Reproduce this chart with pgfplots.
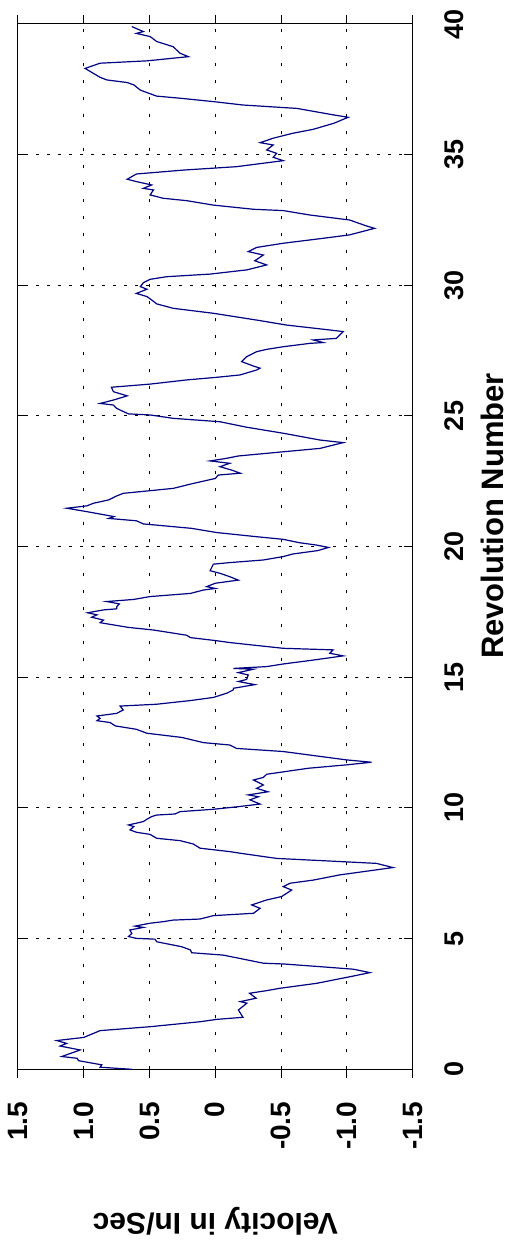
\documentclass[border=0pt]{standalone}
\usepackage{fontspec}
\setmainfont{Liberation Sans}
\usepackage{pgfplots}
\pgfplotsset{compat=1.18}
\definecolor{mlnavy}{RGB}{0,0,128}
\newcommand{\rl}[1]{{\fontsize{13.5}{13.5}\selectfont\bfseries #1}}

\begin{document}
\begin{tikzpicture}
\useasboundingbox (-9pt,-88.85pt) rectangle (244.5pt,534.65pt);
\begin{axis}[
  at={(0,0)}, anchor=south west,
  scale only axis, width=197.35pt, height=522.65pt,
  x dir=reverse, xmin=-1.5, xmax=1.5, ymin=0, ymax=40,
  xtick={-1.5,-1,-0.5,0,0.5,1,1.5},
  xticklabels={-1.5,-1.0,-0.5,0,0.5,1.0,1.5},
  ytick={0,5,...,40},
  yticklabels={\rl{0},\rl{5},\rl{10},\rl{15},\rl{20},\rl{25},\rl{30},\rl{35},\rl{40}},
  axis line style={black,line width=0.5pt},
  tick style={black,line width=0.5pt},
  major tick length=4.5pt,
  xtick align=outside, ytick align=inside,
  grid=major,
  major x grid style={black,line width=0.5pt,dash pattern=on 1.5pt off 7pt},
  major y grid style={black,line width=0.5pt,dash pattern=on 1.2pt off 4.3pt},
  xticklabel style={rotate=90,anchor=east,inner sep=0pt,font=\bfseries\fontsize{14}{14}\selectfont},
  xticklabel shift=11.5pt,
  yticklabel pos=right,
  y tick label style={rotate=90,anchor=north,inner sep=0pt},
  yticklabel shift=16pt,
  every axis x label/.style={at={(axis description cs:0.5,-0.1376)},anchor=base,rotate=180,inner sep=0pt,font=\bfseries\fontsize{15}{15}\selectfont},
  every axis y label/.style={at={(axis description cs:1.2288,0.5293)},anchor=base,rotate=90,inner sep=0pt,font=\bfseries\fontsize{15.5}{15.5}\selectfont},
  xlabel={Velocity in In/Sec},
  ylabel={Revolution Number},
]
% velocity (x) against revolution (y)
\addplot[mlnavy,line width=0.6pt] table[x=v,y=r] {
r v
0.00 0.635
0.08 0.876
0.17 0.863
0.33 1.04
0.42 1.05
0.49 1.167
0.74 1.028
0.89 1.18
0.99 1.13
1.10 1.205
1.22 1.00
1.48 0.876
1.63 0.496
1.82 0.116
1.91 -0.01
1.99 -0.21
2.27 -0.175
2.53 -0.24
2.59 -0.19
2.72 -0.31
2.91 -0.26
3.01 -0.39
3.10 -0.49
3.29 -0.77
3.42 -0.90
3.57 -1.05
3.70 -1.175
3.83 -1.05
3.93 -0.79
4.03 -0.52
4.06 -0.365
4.37 -0.06
4.46 0.18
4.57 0.19
4.69 0.256
4.88 0.445
4.98 0.46
5.01 0.60
5.08 0.66
5.20 0.635
5.33 0.65
5.43 0.547
5.48 0.61
5.59 0.496
5.65 0.395
5.71 0.32
5.75 0.116
5.88 0.015
5.97 -0.29
6.16 -0.34
6.29 -0.276
6.48 -0.39
6.61 -0.504
6.86 -0.58
6.99 -0.516
7.12 -0.567
7.24 -0.744
7.44 -0.947
7.72 -1.35
7.88 -1.225
7.95 -0.947
8.07 -0.466
8.27 -0.187
8.33 -0.11
8.46 0.116
8.62 0.167
8.75 0.268
8.84 0.446
8.99 0.496
9.07 0.60
9.16 0.648
9.29 0.62
9.35 0.66
9.48 0.547
9.57 0.52
9.67 0.484
9.73 0.446
9.77 0.306
9.86 0.268
9.95 0.015
10.05 -0.175
10.15 -0.34
10.31 -0.263
10.43 -0.327
10.50 -0.25
10.62 -0.40
10.75 -0.314
10.88 -0.365
11.07 -0.29
11.17 -0.365
11.29 -0.39
11.52 -0.706
11.65 -0.997
11.75 -1.187
11.84 -0.997
12.16 -0.516
12.28 -0.16
12.41 -0.11
12.50 0.09
12.70 0.256
12.86 0.52
13.01 0.60
13.14 0.76
13.27 0.80
13.34 0.90
13.43 0.876
13.52 0.90
13.62 0.75
13.75 0.70
13.90 0.724
13.97 0.446
14.11 0.19
14.23 0.015
14.39 -0.086
14.52 -0.137
14.58 -0.137
14.72 -0.30
14.84 -0.175
14.92 -0.238
15.09 -0.25
15.18 -0.175
15.31 -0.29
15.34 -0.137
15.41 -0.39
15.51 -0.516
15.66 -0.744
15.82 -0.972
15.92 -0.87
16.05 -0.896
16.11 -0.516
16.33 -0.11
16.40 -0.01
16.52 0.19
16.61 0.218
16.71 0.344
16.81 0.47
16.91 0.66
17.09 0.876
17.19 0.85
17.30 0.94
17.39 0.90
17.47 0.97
17.58 0.85
17.62 0.75
17.70 0.75
17.81 0.73
17.90 0.825
17.98 0.62
18.09 0.496
18.21 0.19
18.34 0.09
18.40 0.0
18.47 0.066
18.60 0.0
18.72 -0.175
18.85 -0.11
18.98 -0.035
19.08 0.04
19.33 0.015
19.39 -0.11
19.49 -0.365
19.62 -0.516
19.72 -0.59
19.85 -0.78
19.97 -0.86
20.06 -0.77
20.15 -0.64
20.28 -0.516
20.38 -0.314
20.54 -0.01
20.70 0.18
20.87 0.547
20.99 0.60
21.08 0.81
21.15 0.77
21.34 0.977
21.47 1.13
21.56 0.977
21.66 0.927
21.79 0.81
21.94 0.75
22.04 0.70
22.23 0.32
22.42 0.167
22.61 0.0
22.74 -0.023
22.81 -0.19
22.93 -0.124
23.06 -0.035
23.19 -0.11
23.28 0.04
23.38 -0.086
23.47 -0.175
23.63 -0.516
23.76 -0.795
23.98 -0.972
24.08 -0.795
24.34 -0.516
24.57 -0.238
24.78 -0.035
24.91 0.32
25.04 0.496
25.08 0.66
25.29 0.75
25.42 0.775
25.48 0.876
25.61 0.775
25.77 0.67
25.93 0.775
26.10 0.79
26.22 0.496
26.38 0.218
26.48 -0.01
26.57 -0.187
26.76 -0.314
26.83 -0.34
26.91 -0.29
27.08 -0.20
27.27 -0.238
27.46 -0.314
27.55 -0.39
27.65 -0.516
27.78 -0.72
27.81 -0.82
27.91 -0.744
27.97 -0.92
28.23 -0.972
28.32 -0.82
28.48 -0.54
28.67 -0.314
28.93 0.015
29.12 0.32
29.29 0.446
29.44 0.484
29.57 0.52
29.69 0.60
29.85 0.52
29.95 0.57
30.10 0.547
30.23 0.496
30.33 0.37
30.43 0.04
30.59 -0.238
30.78 -0.39
30.94 -0.30
31.16 -0.365
31.29 -0.25
31.45 -0.314
31.61 -0.516
31.80 -0.82
31.93 -1.02
32.18 -1.21
32.27 -1.15
32.50 -1.02
32.69 -0.72
32.86 -0.516
32.91 -0.29
33.07 0.015
33.24 0.218
33.33 0.395
33.46 0.496
33.65 0.47
33.71 0.547
33.84 0.484
33.97 0.60
34.06 0.67
34.26 0.60
34.41 0.243
34.54 -0.16
34.77 -0.516
34.90 -0.44
35.05 -0.466
35.18 -0.39
35.37 -0.44
35.46 -0.34
35.63 -0.44
35.82 -0.59
35.97 -0.744
36.20 -0.90
36.43 -1.01
36.52 -0.90
36.77 -0.62
36.90 -0.21
37.03 0.015
37.16 0.268
37.24 0.446
37.47 0.57
37.67 0.62
37.76 0.67
37.86 0.825
37.96 0.876
38.18 0.95
38.30 0.99
38.50 0.876
38.59 0.52
38.75 0.205
38.88 0.268
39.13 0.32
39.33 0.446
39.52 0.496
39.64 0.60
39.71 0.547
39.90 0.635
};
\end{axis}
\end{tikzpicture}
\end{document}
